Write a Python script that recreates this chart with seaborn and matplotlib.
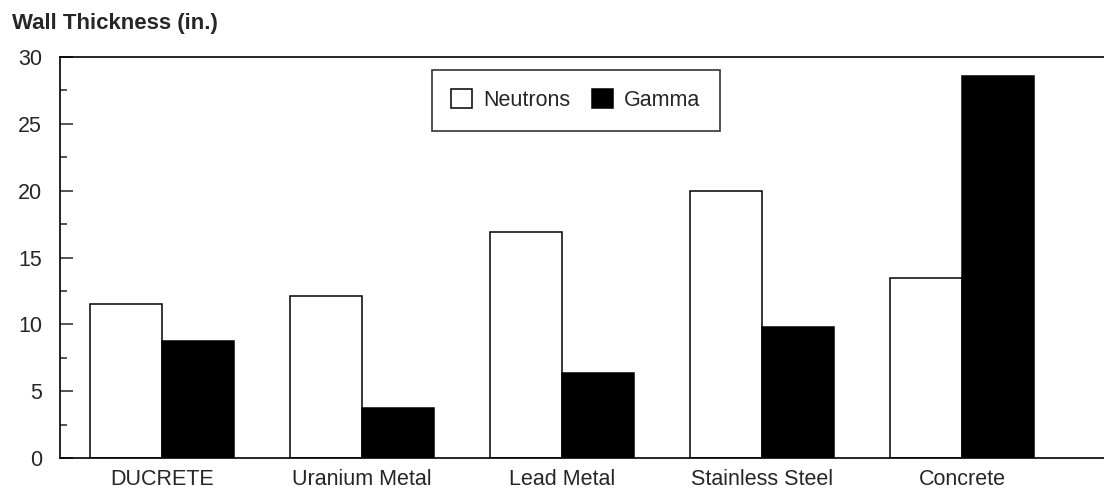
import pandas as pd
import matplotlib
matplotlib.use("Agg")
import matplotlib.pyplot as plt
from matplotlib.ticker import MultipleLocator
import seaborn as sns

materials = ["DUCRETE", "Uranium Metal", "Lead Metal", "Stainless Steel", "Concrete"]
neutrons = [11.5, 12.1, 16.9, 20.0, 13.5]
gamma = [8.75, 3.75, 6.35, 9.8, 28.55]
series = ["Neutrons", "Gamma"]

sns.set_theme(style="white")
plt.rcParams["font.family"] = ["Liberation Sans", "DejaVu Sans"]

df = pd.DataFrame({
    "Material": materials * 2,
    "Series": ["Neutrons"] * len(materials) + ["Gamma"] * len(materials),
    "Thickness": neutrons + gamma,
})

fig = plt.figure(figsize=(11.04, 4.91), dpi=100)
ax = fig.add_axes([0.0543, 0.0672, 0.9457, 0.8167])

sns.barplot(data=df, x="Material", y="Thickness", hue="Series", hue_order=series,
            order=materials, palette={"Neutrons": "white", "Gamma": "black"},
            width=0.72, edgecolor="black", linewidth=1.1, legend=False, ax=ax)

ax.set_ylim(0, 30)
ax.set_xlim(-0.51, 4.71)
ax.set_xlabel("")
ax.set_ylabel("")
ax.yaxis.set_major_locator(MultipleLocator(5))
ax.yaxis.set_minor_locator(MultipleLocator(2.5))
ax.tick_params(axis="y", which="major", direction="in", length=9, width=1.1,
               labelsize=15.5, pad=13, left=True)
ax.tick_params(axis="y", which="minor", direction="in", length=5, width=1.1, left=True)
ax.tick_params(axis="x", length=0, labelsize=15.5, pad=8)

for side in ["left", "top", "bottom"]:
    ax.spines[side].set_color("black")
    ax.spines[side].set_linewidth(1.2)
ax.spines["right"].set_visible(False)

leg = ax.legend(handles=list(ax.containers), labels=series, loc="upper center",
                bbox_to_anchor=(0.494, 0.968), ncol=2, frameon=True, fancybox=False,
                fontsize=15.5, handlelength=1.0, handleheight=1.0, handletextpad=0.5,
                columnspacing=1.0, borderpad=0.9, borderaxespad=0)
leg.get_frame().set_edgecolor("black")
leg.get_frame().set_linewidth(1.2)

fig.text(0.011, 1 - 23 / 491, "Wall Thickness (in.)", fontsize=16,
         fontweight="bold", va="center", ha="left")

fig.savefig("out.png", dpi=100)
